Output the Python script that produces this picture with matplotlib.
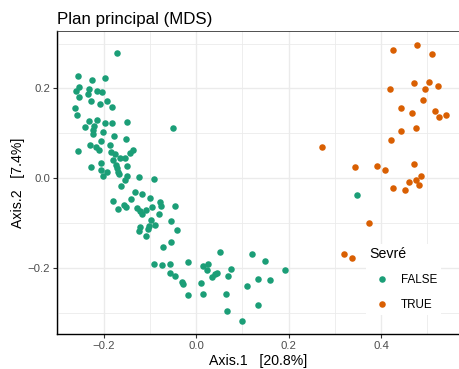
import matplotlib
matplotlib.use('Agg')
import matplotlib.pyplot as plt
from matplotlib.lines import Line2D

plt.rcParams['font.family'] = ['Liberation Sans', 'DejaVu Sans']

# MDS coordinates, Sevré == FALSE
false_x = [
    -0.172, -0.256, -0.226, -0.198, -0.255, -0.261, -0.232, -0.215, -0.204, -0.235,
    -0.253, -0.227, -0.193, -0.209, -0.182, -0.263, -0.259, -0.232, -0.215, -0.198,
    -0.182, -0.150, -0.240, -0.221, -0.050, -0.223, -0.224, -0.202, -0.179, -0.153,
    -0.206, -0.231, -0.186, -0.218, -0.210, -0.257, -0.184, -0.175, -0.137, -0.143,
    -0.166, -0.154, -0.180, -0.207, -0.151, -0.229, -0.174, -0.172, -0.170, -0.167,
    -0.207, -0.194, -0.201, -0.151, -0.154, -0.125, -0.091, -0.164, -0.133, -0.118,
    -0.100, -0.142, -0.180, -0.156, -0.153, -0.170, -0.129, -0.123, -0.118, -0.110,
    -0.096, -0.078, -0.076, -0.046, -0.081, -0.098, -0.054, -0.089, -0.103, -0.104,
    -0.123, -0.125, -0.041, -0.110, -0.055, -0.072,
    0.051, 0.120, 0.149, 0.193, -0.091, -0.075, -0.056, -0.017, 0.014, 0.025,
    0.024, 0.075, 0.045, 0.040, 0.033, 0.069, -0.056, -0.047, -0.032, -0.028,
    0.011, -0.019, 0.014, 0.065, 0.110, 0.134, 0.160, 0.134, 0.066, 0.100,
    0.348,
]
false_y = [
    0.280, 0.228, 0.219, 0.224, 0.204, 0.195, 0.198, 0.194, 0.192, 0.188,
    0.180, 0.172, 0.173, 0.165, 0.159, 0.157, 0.140, 0.127, 0.130, 0.122,
    0.124, 0.126, 0.115, 0.116, 0.113, 0.107, 0.099, 0.103, 0.094, 0.088,
    0.084, 0.073, 0.073, 0.069, 0.062, 0.061, 0.059, 0.055, 0.064, 0.057,
    0.044, 0.044, 0.041, 0.033, 0.027, 0.024, 0.029, 0.022, 0.014, 0.010,
    0.018, 0.013, 0.006, 0.005, -0.005, 0.003, -0.002, -0.017, -0.031, -0.035,
    -0.043, -0.047, -0.050, -0.059, -0.063, -0.069, -0.067, -0.074, -0.080, -0.070,
    -0.064, -0.054, -0.062, -0.061, -0.080, -0.092, -0.096, -0.104, -0.106, -0.113,
    -0.109, -0.117, -0.115, -0.129, -0.141, -0.153,
    -0.164, -0.168, -0.185, -0.205, -0.191, -0.193, -0.192, -0.186, -0.196, -0.191,
    -0.205, -0.202, -0.210, -0.214, -0.221, -0.218, -0.210, -0.218, -0.231, -0.236,
    -0.234, -0.260, -0.258, -0.257, -0.239, -0.224, -0.226, -0.282, -0.296, -0.317,
    -0.037,
]

# Sevré == TRUE
true_x = [
    0.425, 0.478, 0.511, 0.420, 0.471, 0.504, 0.495, 0.524, 0.490, 0.443,
    0.467, 0.518, 0.526, 0.540, 0.443, 0.476, 0.422, 0.409, 0.471, 0.487,
    0.461, 0.475, 0.483, 0.425, 0.451, 0.272, 0.343, 0.391, 0.375, 0.320,
    0.337,
]
true_y = [
    0.285, 0.297, 0.277, 0.199, 0.213, 0.214, 0.199, 0.206, 0.174, 0.156,
    0.145, 0.150, 0.136, 0.141, 0.106, 0.112, 0.085, 0.018, 0.032, 0.006,
    -0.009, -0.005, -0.016, -0.022, -0.026, 0.069, 0.024, 0.028, -0.100, -0.169,
    -0.178,
]

GREEN = '#1B9E77'
ORANGE = '#D95F02'

W, H = 460, 369
fig = plt.figure(figsize=(W / 100, H / 100), dpi=100)
fig.patch.set_facecolor('white')
ax = fig.add_axes([57 / W, 1 - 334 / H, (459 - 57) / W, (334 - 31) / H])

ax.scatter(false_x, false_y, s=22, color=GREEN, linewidths=0, zorder=3)
ax.scatter(true_x, true_y, s=22, color=ORANGE, linewidths=0, zorder=3)

ax.set_xlim(-0.3017, 0.569)
ax.set_ylim(-0.347, 0.328)

ax.set_xticks([-0.2, 0.0, 0.2, 0.4])
ax.set_xticklabels(['\u22120.2', '0.0', '0.2', '0.4'])
ax.set_yticks([-0.2, 0.0, 0.2])
ax.set_yticklabels(['\u22120.2', '0.0', '0.2'])
ax.set_xticks([-0.3, -0.1, 0.1, 0.3, 0.5], minor=True)
ax.set_yticks([-0.3, -0.1, 0.1, 0.3], minor=True)

ax.grid(True, which='major', color='#EBEBEB', linewidth=1.0, zorder=0)
ax.grid(True, which='minor', color='#EBEBEB', linewidth=0.6, zorder=0)
ax.set_axisbelow(True)
ax.tick_params(which='minor', length=0)
ax.tick_params(which='major', length=3, width=0.8, color='#333333',
               labelsize=8.2, labelcolor='#4D4D4D', pad=2)

for side in ['top', 'right']:
    ax.spines[side].set_color('#333333')
    ax.spines[side].set_linewidth(0.6)
for side in ['left', 'bottom']:
    ax.spines[side].set_color('black')
    ax.spines[side].set_linewidth(1.0)

ax.set_xlabel('Axis.1   [20.8%]', fontsize=10.2, labelpad=2)
ax.set_ylabel('Axis.2   [7.4%]', fontsize=10.2, labelpad=2)
ax.set_title('Plan principal (MDS)', loc='left', fontsize=12.2, pad=5)

handles = [
    Line2D([], [], marker='o', linestyle='', markersize=4.7,
           markerfacecolor=GREEN, markeredgewidth=0, label='FALSE'),
    Line2D([], [], marker='o', linestyle='', markersize=4.7,
           markerfacecolor=ORANGE, markeredgewidth=0, label='TRUE'),
]
leg = ax.legend(handles=handles, title='Sevré', loc='upper left',
                bbox_to_anchor=(366 / W, 1 - 244 / H), bbox_transform=fig.transFigure,
                borderaxespad=0, borderpad=0.3, fontsize=8.4, title_fontsize=10.2,
                alignment='left', frameon=True, fancybox=False, edgecolor='none',
                facecolor='white', framealpha=1, handlelength=2.2,
                handletextpad=0.5, labelspacing=1.1)
leg.set_zorder(5)

plt.savefig('out.png', dpi=100, facecolor='white')
